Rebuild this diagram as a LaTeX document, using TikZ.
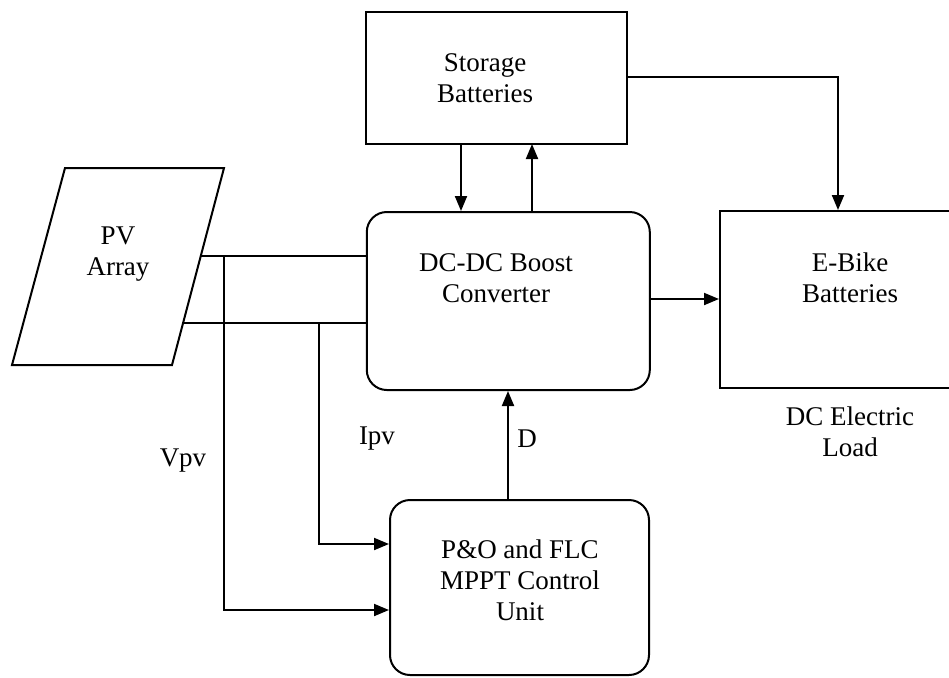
\documentclass[tikz,border=0pt]{standalone}
\usepackage{fontspec}
\setmainfont{Liberation Serif}
\usetikzlibrary{arrows.meta,calc}
\begin{document}
\begin{tikzpicture}[x=0.5pt,y=-0.5pt,
  box/.style={draw,line width=1pt,inner sep=0pt,rectangle},
  rbox/.style={box,rounded corners=10pt},
  txt/.style={font=\fontsize{13.5pt}{15.5pt}\selectfont,align=center,inner sep=0pt},
  conn/.style={line width=1pt},
  arr/.style={conn,-{Triangle[length=7.5pt,width=6pt]}}]
\useasboundingbox (0,0) rectangle (949,677);

% boxes
\node[box,minimum width=130.5pt,minimum height=66pt] (stor) at (496.5,78) {};
\node[rbox,minimum width=141.5pt,minimum height=89pt] (dcdc) at (508.3,301) {};
\node[box,minimum width=130pt,minimum height=88.5pt] (ebike) at (850,299.5) {};
\node[rbox,minimum width=129.5pt,minimum height=87.5pt] (pando) at (519.5,587.5) {};

% PV array parallelogram
\coordinate (pvtl) at (65,168);
\coordinate (pvtr) at (224,168);
\coordinate (pvbr) at (172,365);
\coordinate (pvbl) at (12,365);
\draw[line width=1pt] (pvtl) -- (pvtr) -- (pvbr) -- (pvbl) -- cycle;

% texts
\node[txt] (pvtxt) at (118,254) {PV\\Array};
\node[txt] (stortxt) at (485,78) {Storage\\Batteries};
\node[txt] (dcdctxt) at (496,278) {DC-DC Boost\\Converter};
\node[txt] (ebiketxt) at (850,278) {E-Bike\\Batteries};
\node[txt] (loadtxt) at (850,432) {DC Electric\\Load};
\node[txt] (pandotxt) at (520,580) {P\&O and FLC\\MPPT Control\\Unit};
\node[txt] (vpv) at (183,461) {Vpv};
\node[txt] (ipv) at (377,439) {Ipv};
\node[txt] (dlab) at (527,439) {D};

% PV output lines
\coordinate (pv1) at (200,256);
\coordinate (pv2) at (182,323);
\coordinate (vtap) at (224,256);
\coordinate (itap) at (319,323);
\draw[conn] (pv1) -- (pv1 -| dcdc.west);
\draw[conn] (pv2) -- (pv2 -| dcdc.west);
\draw[arr] (vtap) |- ($(pando.west)+(0,22.5)$);
\draw[arr] (itap) |- ($(pando.west)+(0,-43.5)$);

% storage connections
\coordinate (sdown) at (461,144);
\coordinate (sup) at (532,144);
\draw[arr] (sdown) -- (sdown |- dcdc.north);
\draw[arr] (sup |- dcdc.north) -- (sup);
\coordinate (sright) at (627,77);
\draw[arr] (sright) -| (838,0 |- ebike.north);

% converter to load
\draw[arr] (dcdc.east |- 0,299) -- (ebike.west |- 0,299);

% duty cycle
\coordinate (dtop) at (508,500);
\draw[arr] (dtop) -- (dtop |- dcdc.south);
\end{tikzpicture}
\end{document}
